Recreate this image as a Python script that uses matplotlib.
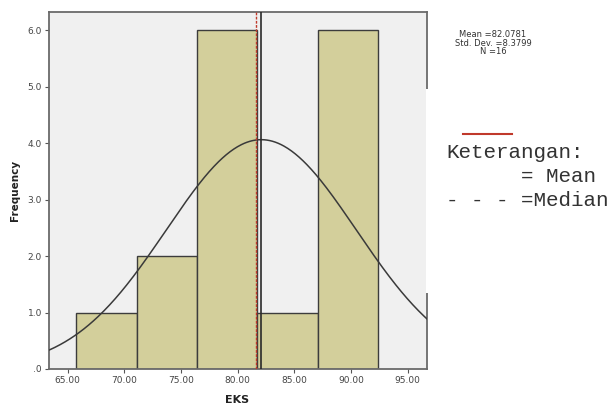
import numpy as np
import matplotlib
matplotlib.use("Agg")
import matplotlib.pyplot as plt
from matplotlib.patches import Rectangle
from matplotlib.lines import Line2D

# Data
bin_edges = [65.75, 71.08, 76.41, 81.74, 87.07, 92.40]
counts = [1, 2, 6, 1, 6]
mean_val = 82.0781
std_dev = 8.3799
n_obs = 16
median_val = 81.65
x_ticks = [65, 70, 75, 80, 85, 90, 95]
x_tick_labels = ["65.00", "70.00", "75.00", "80.00", "85.00", "90.00", "95.00"]
y_ticks = [0, 1, 2, 3, 4, 5, 6]
y_tick_labels = [".0", "1.0", "2.0", "3.0", "4.0", "5.0", "6.0"]

W, H = 612, 405
fig = plt.figure(figsize=(W / 100, H / 100), dpi=100)
fig.patch.set_facecolor("white")

L, R, T, B = 49, 427, 12, 369
ax = fig.add_axes([L / W, (H - B) / H, (R - L) / W, (B - T) / H])
ax.set_facecolor("#f0f0f0")

widths = np.diff(bin_edges)
ax.bar(bin_edges[:-1], counts, width=widths, align="edge",
       color="#d3cf9b", edgecolor="#3c3c3c", linewidth=1.0, zorder=2)

# Fitted normal curve from the reported statistics
bw = np.mean(widths)
xs = np.linspace(63.35, 96.7, 400)
ys = n_obs * bw / (std_dev * np.sqrt(2 * np.pi)) * np.exp(-0.5 * ((xs - mean_val) / std_dev) ** 2)
ax.plot(xs, ys, color="#3a3a3a", linewidth=1.1, zorder=4)

ax.axvline(mean_val, color="#2a2a2a", linewidth=1.2, zorder=5)
ax.axvline(median_val, color="#c0392b", linewidth=1.0, linestyle=(0, (2, 1)), zorder=6)

ax.set_xlim(63.35, 96.7)
ax.set_ylim(0, 6.32)
ax.set_xticks(x_ticks)
ax.set_xticklabels(x_tick_labels)
ax.set_yticks(y_ticks)
ax.set_yticklabels(y_tick_labels)
ax.tick_params(axis="both", labelsize=6.5, colors="#555555", length=3, width=0.8, pad=2)
for t in ax.get_xticklabels() + ax.get_yticklabels():
    t.set_color("#444444")
for s in ax.spines.values():
    s.set_color("#6a6a6a")
    s.set_linewidth(1.3)

fig.text(15 / W, 1 - 190 / H, "Frequency", rotation=90, fontsize=7.5, fontweight="bold",
         color="#222222", ha="center", va="center")
fig.text(237 / W, 1 - 400 / H, "EKS", fontsize=8, fontweight="bold",
         color="#222222", ha="center", va="center")

# Stats box
fig.text(493 / W, 1 - 43 / H, "Mean =82.0781\nStd. Dev. =8.3799\nN =16", fontsize=6.0,
         color="#333333", ha="center", va="center", linespacing=0.95)

# White overlay hiding part of right frame (as in reference)
fig.patches.append(Rectangle((425.8 / W, (H - 293) / H), 1 - 425.8 / W, (293 - 89) / H,
                             transform=fig.transFigure, facecolor="white", edgecolor="none",
                             zorder=10))

fig.add_artist(Line2D([463 / W, 512 / W], [1 - 133.5 / H] * 2, color="#c0392b",
                      linewidth=1.5, transform=fig.transFigure, zorder=11))
mono = "Liberation Mono"
fig.text(446 / W, 1 - 153 / H, "Keterangan:", family=mono, fontsize=15,
         color="#333333", ha="left", va="center", zorder=12)
fig.text(446 / W, 1 - 176 / H, "      = Mean", family=mono, fontsize=15,
         color="#333333", ha="left", va="center", zorder=12)
fig.text(446 / W, 1 - 200 / H, "- - - =Median", family=mono, fontsize=15,
         color="#333333", ha="left", va="center", zorder=12)

fig.savefig("out.png", dpi=100, facecolor="white")
